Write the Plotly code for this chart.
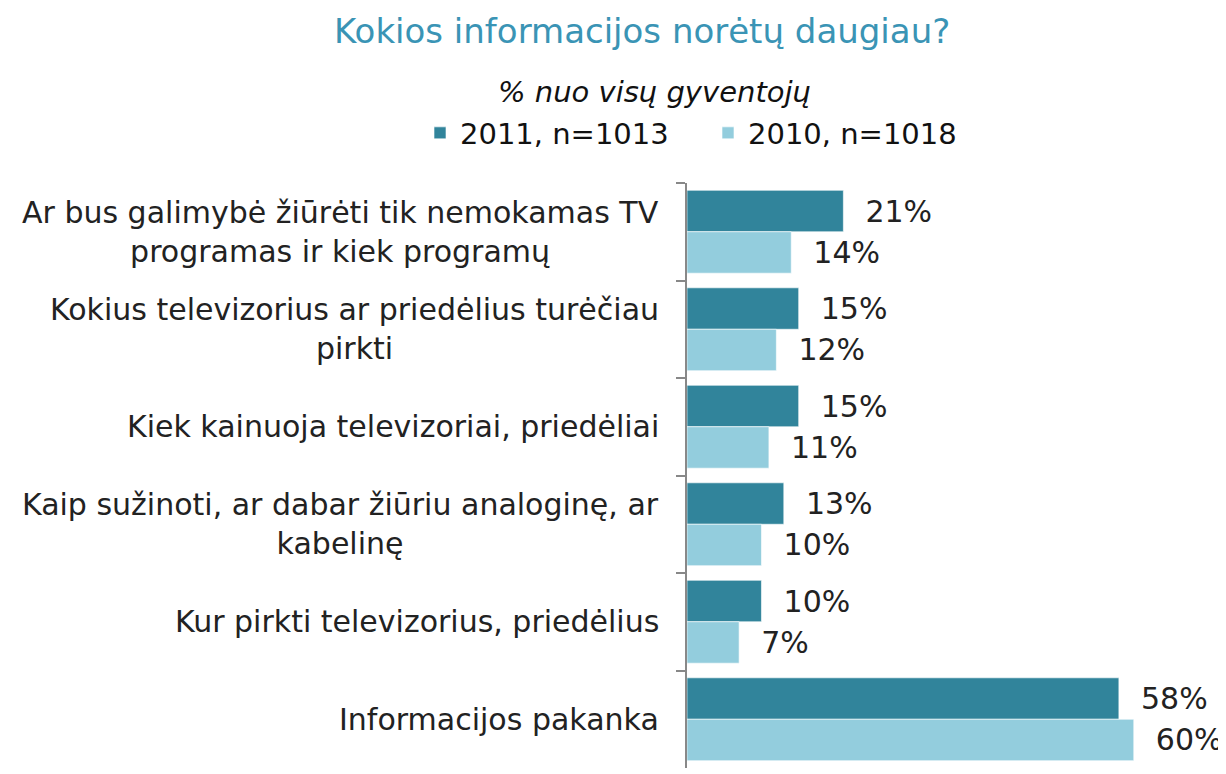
import plotly.graph_objects as go

categories = [
    "Ar bus galimybė žiūrėti tik nemokamas TV<br>programas ir kiek programų",
    "Kokius televizorius ar priedėlius turėčiau<br>pirkti",
    "Kiek kainuoja televizoriai, priedėliai",
    "Kaip sužinoti, ar dabar žiūriu analoginę, ar<br>kabelinę",
    "Kur pirkti televizorius, priedėlius",
    "Informacijos pakanka",
]
cat_ids = ["c1", "c2", "c3", "c4", "c5", "c6"]
values_2011 = [21, 15, 15, 13, 10, 58]
values_2010 = [14, 12, 11, 10, 7, 60]
series_names = ["2011, n=1013", "2010, n=1018"]
title_text = "Kokios informacijos norėtų daugiau?"
subtitle_text = "% nuo visų gyventojų"

FONT = "DejaVu Sans"
OFF = 8  # page body margin
W, H = 1226 - OFF, 774 - OFF
ML, MR, MT, MB = 687 - OFF, 55, 183 - OFF, 6
PW = W - ML - MR
PH = H - MT - MB

def px_x(p):
    return (p - OFF - ML) / PW

def px_y(p):
    return (H - MB - (p - OFF)) / PH

fig = go.Figure()
for name, vals, col in [(series_names[0], values_2011, "#31849B"),
                        (series_names[1], values_2010, "#93CDDD")]:
    fig.add_trace(go.Bar(
        y=cat_ids, x=vals, name=name, orientation="h",
        marker=dict(color=col, line=dict(color="rgba(255,255,255,0.6)", width=1)),
        text=vals, texttemplate="\u00a0\u00a0%{x}%", textposition="outside",
        textfont=dict(family=FONT, size=30, color="#222222"),
        cliponaxis=False, constraintext="none",
    ))

annotations = []
for cid, lab in zip(cat_ids, categories):
    annotations.append(dict(
        x=0, xref="paper", y=cid, yref="y", text=lab, showarrow=False,
        xanchor="right", yanchor="middle", align="center", xshift=-26,
        font=dict(family=FONT, size=30, color="#222222"),
    ))
annotations.append(dict(
    x=px_x(642), y=px_y(31), xref="paper", yref="paper", text=title_text,
    showarrow=False, xanchor="center", yanchor="middle",
    font=dict(family=FONT, size=34, color="#3A94B5"),
))
annotations.append(dict(
    x=px_x(654), y=px_y(92), xref="paper", yref="paper",
    text="<i>" + subtitle_text + "</i>",
    showarrow=False, xanchor="center", yanchor="middle",
    font=dict(family=FONT, size=29, color="#111111"),
))

fig.update_layout(
    width=W, height=H,
    margin=dict(l=ML, r=MR, t=MT, b=MB),
    paper_bgcolor="white", plot_bgcolor="rgba(0,0,0,0)",
    barmode="group", bargap=0.15, bargroupgap=0.0,
    showlegend=True,
    legend=dict(orientation="h", x=px_x(420), xanchor="left",
                y=px_y(133), yanchor="middle",
                font=dict(family=FONT, size=29, color="#111111"),
                traceorder="normal", itemwidth=30,
                entrywidth=243, entrywidthmode="pixels",
                bgcolor="rgba(0,0,0,0)"),
    xaxis=dict(range=[0, 65], visible=False),
    yaxis=dict(type="category", autorange="reversed", showticklabels=False,
               showline=True, linecolor="#888888", linewidth=2,
               ticks="outside", tickson="boundaries", ticklen=9,
               tickcolor="#888888", tickwidth=2, showgrid=False),
    annotations=annotations,
    font=dict(family=FONT),
)

fig.write_html("out.html")
